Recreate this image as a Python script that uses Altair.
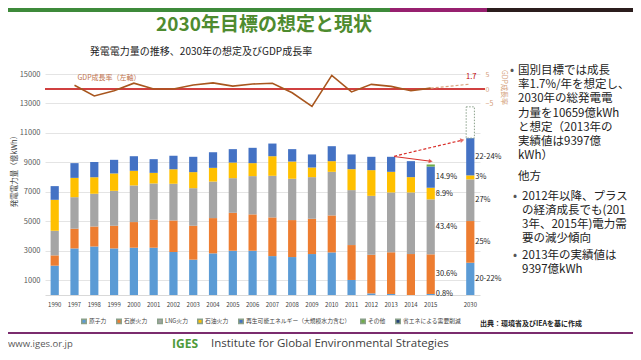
import altair as alt
import pandas as pd

# ---------------- data ----------------
years = ['1990', '1997', '1998', '1999', '2000', '2001', '2002', '2003', '2004', '2005',
         '2006', '2007', '2008', '2009', '2010', '2011', '2012', '2013', '2014', '2015', '2030']
x_domain = years[:-1] + ['gap', '2030']

sources = ['原子力', '石炭火力', 'LNG火力', '石油火力',
           '再生可能エネルギー（大規模水力含む）', 'その他', '省エネによる需要削減']
colors = ['#5B9BD5', '#ED7D31', '#A5A5A5', '#FFC000', '#4472C4', '#70AD47', '#264478']

nuclear = [1990, 3160, 3300, 3160, 3210, 3210, 2915, 2400, 2825, 3005, 3005, 2640, 2575, 2780, 2890, 1020, 110, 70, 0, 70, 2190]
coal = [700, 1340, 1355, 1540, 1740, 1900, 2145, 2300, 2395, 2575, 2465, 2625, 2510, 2395, 2510, 2370, 2620, 2830, 2780, 2690, 2830]
lng = [1670, 2140, 2215, 2370, 2485, 2460, 2490, 2550, 2480, 2350, 2600, 2825, 2805, 2825, 2960, 3730, 4000, 4060, 4180, 3730, 2830]
oil = [2100, 1310, 1130, 1180, 995, 720, 990, 1090, 930, 1060, 880, 1330, 1170, 655, 725, 1420, 1745, 1400, 1040, 790, 270]
renew = [930, 1000, 1020, 925, 990, 930, 910, 1040, 1060, 910, 1040, 860, 840, 885, 1015, 1000, 905, 1020, 1085, 1440, 2530]
other = [0] * 19 + [140, 0]
saving = [0] * 20 + [2120]
series = [nuclear, coal, lng, oil, renew, other, saving]

labels_2015 = ['0.8%', '30.6%', '43.4%', '8.9%', '14.9%', '', '']
labels_2030 = ['20-22%', '25%', '27%', '3%', '22-24%', '', '']

gdp_years = ['1997', '1998', '1999', '2000', '2001', '2002', '2003', '2004', '2005', '2006',
             '2007', '2008', '2009', '2010', '2011', '2012', '2013', '2014', '2015']
gdp = [1.3, -2.4, -0.6, 2.0, 0.0, 0.0, 1.4, 2.1, 1.0, 1.7, 2.0, -1.3, -6.0, 4.7, -1.0, 1.6, 0.9, -0.6, 0.3]
gdp_target_years = ['2015', '2030']
gdp_target = [0.3, 1.7]

# arrows: 2013 actual -> 2030 assumption (dashed), 2013 -> 2015 (solid)
arrow_from = ['2013', '2013']
arrow_to = ['2030', '2015']
arrow_y1 = [9420, 9400]
arrow_y2 = [10510, 9080]

# ---------------- tables ----------------
rows = []
for i, yr in enumerate(years):
    cum = 0
    for j, src in enumerate(sources):
        v = series[j][i]
        lab = ''
        if yr == '2015':
            lab = labels_2015[j]
        elif yr == '2030':
            lab = labels_2030[j]
        mid = cum + v / 2
        cum += v
        if v > 0:
            rows.append({'year': yr, 'source': src, 'value': v, 'order': j, 'mid': mid, 'label': lab})
df = pd.DataFrame(rows)
df_lab = df[df['label'] != '']

df_gdp = pd.DataFrame({'year': gdp_years, 'gdp': gdp})
df_gdp_t = pd.DataFrame({'year': gdp_target_years, 'gdp': gdp_target})
df_zero = pd.DataFrame({'gdp': [0]})
df_first = df_gdp.iloc[[0]]
df_last = df_gdp_t.iloc[[1]]

df_arrow = pd.DataFrame({'frm': arrow_from, 'to': arrow_to, 'y1': arrow_y1, 'y2': arrow_y2})

one = pd.DataFrame({'k': [0]})

FONT = 'Noto Sans CJK JP'
W, H = 435, 221

xscale = alt.Scale(domain=x_domain, paddingInner=0.585, paddingOuter=0.283)
xaxis = alt.Axis(title=None, labelAngle=0, labelFontSize=6, labelColor='#404040', ticks=False,
                 domainColor='#D9D9D9', labelPadding=6,
                 labelExpr="datum.value == 'gap' ? '' : datum.value")
X = alt.X('year:N', scale=xscale, axis=xaxis)

yscale = alt.Scale(domain=[0, 15000], nice=False, zero=True)
yaxis = alt.Axis(values=[1000, 3000, 5000, 7000, 9000, 11000, 13000, 15000], grid=True, format='d',
                 gridColor='#E4E4E4', domain=False, ticks=False, labelFontSize=7.5,
                 labelColor='#595959', labelPadding=5, title='発電電力量（億kWh）',
                 titleFontSize=7.5, titleFontWeight='normal', titleColor='#404040',
                 titleX=-27, titleY=95, titleAngle=-90)

sav = sources[-1]
bars = alt.Chart(df).mark_bar(strokeDash=[1.5, 1.5], stroke='#8AA08A').encode(
    x=X,
    y=alt.Y('value:Q', stack='zero', scale=yscale, axis=yaxis),
    color=alt.condition(alt.datum.source == sav, alt.value('white'),
                        alt.Color('source:N', scale=alt.Scale(domain=sources, range=colors),
                                  legend=alt.Legend(title=None, orient='none', legendX=36, legendY=244,
                                                    direction='horizontal', symbolType='square',
                                                    symbolSize=20, labelFontSize=5.8, labelColor='#404040',
                                                    columnPadding=6, labelOffset=2, labelLimit=200))),
    strokeWidth=alt.condition(alt.datum.source == sav, alt.value(1), alt.value(0)),
    order=alt.Order('order:Q'),
)

labels = alt.Chart(df_lab).mark_text(align='left', baseline='middle', dx=5, fontSize=7.5,
                                     color='#222222').encode(
    x=X, y=alt.Y('mid:Q', scale=yscale, axis=yaxis), text='label:N')

XF = alt.X('frm:N', scale=xscale, axis=xaxis)
XT = alt.X('to:N', scale=xscale, axis=xaxis)
arr_dash = alt.Chart(df_arrow.iloc[[0]]).mark_rule(color='#D9302B', strokeWidth=1.2, strokeDash=[3, 2],
                                                   xOffset=3, x2Offset=-8).encode(
    x=XF, x2='to:N', y=alt.Y('y1:Q', scale=yscale, axis=yaxis), y2='y2:Q')
arr_solid = alt.Chart(df_arrow.iloc[[1]]).mark_rule(color='#D9302B', strokeWidth=1.2,
                                                    xOffset=3, x2Offset=0).encode(
    x=XF, x2='to:N', y=alt.Y('y1:Q', scale=yscale, axis=yaxis), y2='y2:Q')
head_dash = alt.Chart(df_arrow.iloc[[0]]).mark_point(shape='triangle-right', filled=True, size=22,
                                                     angle=347, color='#D9302B', xOffset=-8).encode(
    x=XT, y=alt.Y('y2:Q', scale=yscale, axis=yaxis))
head_solid = alt.Chart(df_arrow.iloc[[1]]).mark_point(shape='triangle-right', filled=True, size=22,
                                                      angle=7, color='#D9302B', xOffset=0).encode(
    x=XT, y=alt.Y('y2:Q', scale=yscale, axis=yaxis))


def txt(text, x, y, size, color='#222222', weight='normal', align='left', baseline='alphabetic',
        font=FONT, line_height=None):
    kw = dict(text=text, align=align, baseline=baseline, fontSize=size, color=color,
              fontWeight=weight, font=font)
    if line_height is not None:
        kw['lineHeight'] = line_height
    return alt.Chart(one).mark_text(**kw).encode(x=alt.value(x), y=alt.value(y))


def rect(x, x2, y, y2, color):
    return alt.Chart(one).mark_rect(color=color).encode(
        x=alt.value(x), x2=alt.value(x2), y=alt.value(y), y2=alt.value(y2))


decor = [
    rect(-45, 345, -66, -62, '#3E8A3A'),
    rect(345, 442, -66, -62, '#97206F'),
    rect(442, 600, -66, -62, '#2B1D1D'),
    txt('2030年目標の想定と現状', 219, -49, 19, color='#4E8B2F', weight='bold', align='center',
        baseline='middle'),
    txt('発電電力量の推移、2030年の想定及びGDP成長率', 156, -22, 10, align='center', baseline='middle'),
    txt('•', 465, 0, 12, color='#555555'),
    txt(['国別目標では成長', '率1.7%/年を想定し、', '2030年の総発電電', '力量を10659億kWh',
         'と想定（2013年の', '実績値は9397億', 'kWh）'], 473, 0, 11.5, line_height=14.2),
    txt('他方', 473, 106, 11.5),
    txt('•', 468, 126, 12, color='#555555'),
    txt(['2012年以降、プラス', 'の経済成長でも(201', '3年、2015年)電力需', '要の減少傾向'],
        477, 126, 11.5, line_height=14),
    txt('•', 468, 185, 12, color='#555555'),
    txt(['2013年の実績値は', '9397億kWh'], 477, 185, 11.5, line_height=14),
    txt('出典：環境省及びIEAを基に作成', 435, 250, 7, weight='bold', baseline='middle'),
    rect(-45, 600, 258, 260, '#7B2C6E'),
    txt('www.iges.or.jp', -37, 270, 9.5, color='#595959', baseline='middle', font='Open Sans'),
    txt('IGES', 127, 270, 12, color='#4E9A3A', weight='bold', baseline='middle', font='Open Sans'),
    txt('Institute for Global Environmental Strategies', 166, 270, 11.5, color='#404040',
        baseline='middle', font='Open Sans'),
]

groupA = alt.layer(bars, labels, arr_dash, arr_solid, head_dash, head_solid, *decor)

# ---------------- GDP (right axis) ----------------
gscale = alt.Scale(domain=[-71, 5.17], nice=False, zero=False)
gaxis = alt.Axis(orient='right', values=[-5, 0, 5], grid=False, domain=False, ticks=False,
                 labelFontSize=7, labelColor='#D4A07A', labelPadding=5, title='GDP成長率',
                 titleFontSize=7, titleFontWeight='normal', titleColor='#D4A07A',
                 titleX=20, titleY=13)
GY = alt.Y('gdp:Q', scale=gscale, axis=gaxis)

zero_rule = alt.Chart(df_zero).mark_rule(color='#C00000', strokeWidth=1.5).encode(
    y=GY, x=alt.value(0), x2=alt.value(440))
gdp_line = alt.Chart(df_gdp).mark_line(color='#A8561E', strokeWidth=1.6).encode(x=X, y=GY)
gdp_dash = alt.Chart(df_gdp_t).mark_line(color='#D9A27E', strokeWidth=1.2, strokeDash=[3, 2]).encode(
    x=X, y=GY)
gdp_lbl = alt.Chart(df_first).mark_text(text='GDP成長率（左軸）', align='left', dx=3, dy=-7,
                                        fontSize=7, color='#C0714A').encode(x=X, y=GY)
gdp_t_lbl = alt.Chart(df_last).mark_text(align='center', dy=-7, dx=1, fontSize=7.5,
                                         color='#C00000').encode(x=X, y=GY, text=alt.Text('gdp:Q', format='.1f'))

groupB = alt.layer(zero_rule, gdp_line, gdp_dash, gdp_lbl, gdp_t_lbl)

chart = alt.layer(groupA, groupB).resolve_scale(y='independent').properties(
    width=W, height=H, autosize='none',
    padding={'left': 37, 'top': 66, 'right': 153, 'bottom': 57},
    background='white'
).configure(font=FONT).configure_view(strokeWidth=0)

chart.save('out.html', embed_options={'renderer': 'svg', 'actions': False})
